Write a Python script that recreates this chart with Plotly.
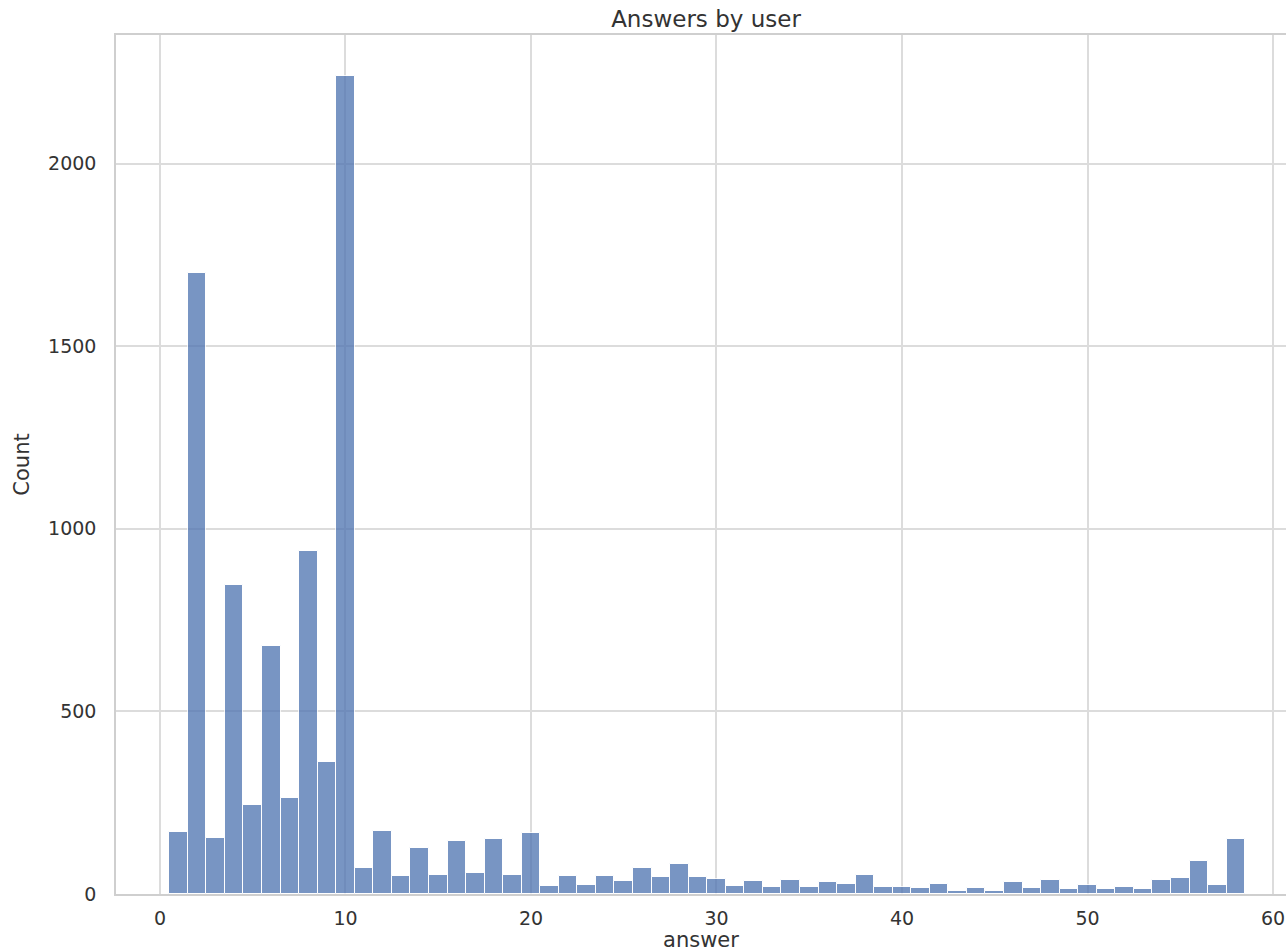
import plotly.graph_objects as go

answers = list(range(1, 59))
counts = [170, 1700, 152, 846, 244, 679, 262, 940, 361, 2240,
          72, 172, 49, 125, 52, 145, 57, 151, 52, 166,
          22, 49, 26, 49, 36, 70, 46, 83, 46, 42,
          22, 36, 18, 39, 18, 33, 28, 52, 18, 18,
          16, 28, 8, 16, 8, 33, 16, 39, 13, 26,
          13, 18, 13, 39, 43, 91, 25, 151]

title_text = "Answers by user"
x_label = "answer"
y_label = "Count"
x_ticks = [0, 10, 20, 30, 40, 50, 60]
y_ticks = [0, 500, 1000, 1500, 2000]

font_family = "DejaVu Sans, Verdana, sans-serif"
text_color = "#333333"
grid_color = "#dcdcdc"

fig = go.Figure(
    go.Bar(
        x=answers,
        y=counts,
        width=1.0,
        marker=dict(color="#4c72b0", opacity=0.75, line=dict(color="white", width=1)),
    )
)

fig.update_layout(
    width=1286,
    height=952,
    margin=dict(l=116, r=0, t=35, b=58, autoexpand=False),
    paper_bgcolor="white",
    plot_bgcolor="white",
    showlegend=False,
    bargap=0,
    font=dict(family=font_family, size=19, color=text_color),
    title=dict(
        text=title_text,
        x=(706 - 116) / (1286 - 116),
        xanchor="center",
        xref="paper",
        y=1 - 19 / 952,
        yanchor="middle",
        yref="container",
        font=dict(size=23, color=text_color),
    ),
)

fig.update_xaxes(
    range=[-2.37, 60.7],
    tickvals=x_ticks,
    ticktext=[str(v) for v in x_ticks],
    showgrid=True,
    gridcolor=grid_color,
    gridwidth=1.5,
    zeroline=False,
    showline=True,
    linecolor="#cfcfcf",
    linewidth=1.5,
    mirror=True,
    ticks="",
    automargin=False,
    ticklabelstandoff=6,
    tickfont=dict(size=19, color=text_color),
    title=dict(text=x_label, standoff=8, font=dict(size=21, color=text_color)),
)

fig.update_yaxes(
    range=[0, 2352],
    tickvals=y_ticks,
    ticktext=[str(v) for v in y_ticks],
    showgrid=True,
    gridcolor=grid_color,
    gridwidth=1.5,
    zeroline=False,
    showline=True,
    linecolor="#cfcfcf",
    linewidth=1.5,
    mirror=False,
    ticks="",
    automargin=False,
    ticklabelstandoff=14,
    tickfont=dict(size=19, color=text_color),
    title=dict(text=y_label, standoff=13, font=dict(size=21, color=text_color)),
)

fig.write_html(
    "out.html",
    config={"displayModeBar": False},
    post_script="document.body.style.margin='0';document.body.style.overflow='hidden';",
)
